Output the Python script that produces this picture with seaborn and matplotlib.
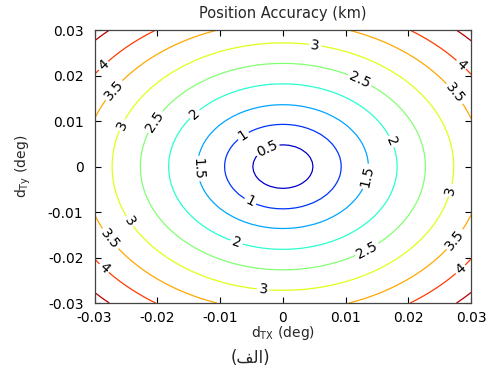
import numpy as np
import matplotlib
matplotlib.use("Agg")
import matplotlib.pyplot as plt
import seaborn as sns

# Contour levels and their radii (deg)
levels = [0.5, 1.0, 1.5, 2.0, 2.5, 3.0, 3.5, 4.0, 4.5]
radii = [0.0048, 0.0093, 0.0136, 0.0182, 0.0227, 0.0272, 0.0318, 0.0362, 0.0408]
x_ticks = [-0.03, -0.02, -0.01, 0, 0.01, 0.02, 0.03]
y_ticks = [-0.03, -0.02, -0.01, 0, 0.01, 0.02, 0.03]
x_tick_labels = ["-0.03", "-0.02", "-0.01", "0", "0.01", "0.02", "0.03"]
y_tick_labels = ["-0.03", "-0.02", "-0.01", "0", "0.01", "0.02", "0.03"]
# label anchor positions (data coords)
label_pos = [
    (0.0051, 0.0264), (-0.0283, 0.0218), (-0.0266, 0.0164), (-0.0258, 0.0093),
    (-0.0203, 0.0098), (-0.0139, 0.0113), (-0.0130, -0.0004), (-0.0061, 0.0064),
    (-0.0024, 0.0036), (0.0120, 0.0184), (0.0280, 0.0218), (0.0267, 0.0153),
    (0.0166, 0.0051), (0.0134, -0.0022), (0.0269, -0.0053), (-0.0056, -0.0087),
    (-0.0248, -0.0124), (-0.0280, -0.0164), (-0.0293, -0.0236), (-0.0075, -0.0171),
    (0.0139, -0.0196), (0.0272, -0.0158), (0.0285, -0.0229), (-0.0032, -0.0280),
]

sns.set_theme(style="white")
plt.rcParams["font.family"] = ["DejaVu Sans"]
plt.rcParams["mathtext.fontset"] = "custom"
plt.rcParams["mathtext.rm"] = "DejaVu Sans"
plt.rcParams["mathtext.it"] = "DejaVu Sans:italic"

fig = plt.figure(figsize=(4.95, 3.87), dpi=100)
ax = fig.add_axes([0.191, 0.217, 0.761, 0.705])

xs = np.linspace(-0.03, 0.03, 61)
ys = np.linspace(-0.03, 0.03, 61)
X, Y = np.meshgrid(xs, ys)
R = np.hypot(X, Y)
rr = [0.0] + radii + [0.045]
vv = [0.0] + levels + [4.95]
Z = np.interp(R, rr, vv)

cs = ax.contour(X, Y, Z, levels=levels, cmap="jet", vmin=0.2, vmax=4.7, linewidths=0.9)
ax.clabel(cs, levels=levels, inline=True, inline_spacing=2, fontsize=10,
          colors="black", fmt=lambda v: f"{v:g}", manual=label_pos)

ax.set_xlim(-0.03, 0.03)
ax.set_ylim(-0.03, 0.03)
ax.set_xticks(x_ticks)
ax.set_xticklabels(x_tick_labels)
ax.set_yticks(y_ticks)
ax.set_yticklabels(y_tick_labels)
ax.tick_params(direction="in", length=4, width=0.8, labelsize=10, colors="black",
               top=True, right=True, bottom=True, left=True)
ax.tick_params(axis="x", pad=6)
ax.tick_params(axis="y", pad=8)
for s in ax.spines.values():
    s.set_color("#444444")
    s.set_linewidth(0.9)
    s.set_visible(True)

ax.set_title("Position Accuracy (km)", fontsize=10.5, pad=9)
ax.set_xlabel(r"d$_{\mathrm{TX}}$ (deg)", fontsize=10, labelpad=-1)
ax.set_ylabel(r"d$_{\mathrm{Ty}}$ (deg)", fontsize=10, labelpad=11)

fig.text(0.505, 0.075, "(\ufed2\ufedf\u0627)", ha="center", va="center",
         fontsize=12, family=["DejaVu Sans"])

fig.savefig("out.png", dpi=100, facecolor="white")
